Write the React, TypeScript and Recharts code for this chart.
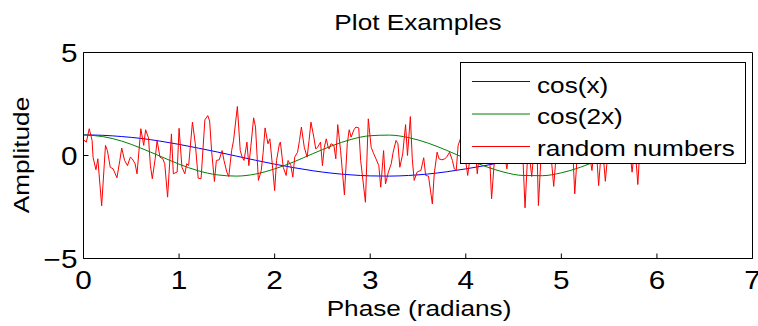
import React from 'react';
import { LineChart, Line, XAxis, YAxis, Legend } from 'recharts';

// smooth curves, read at every 0.2 rad
const phase = [0, 0.2, 0.4, 0.6, 0.8, 1.0, 1.2, 1.4, 1.6, 1.8, 2.0, 2.2, 2.4, 2.6, 2.8, 3.0,
  3.2, 3.4, 3.6, 3.8, 4.0, 4.2, 4.4, 4.6, 4.8, 5.0, 5.2, 5.4, 5.6, 5.8, 6.0, 6.2, 6.28];
const cosX = [1.0, 0.98, 0.92, 0.83, 0.7, 0.54, 0.36, 0.17, -0.03, -0.23, -0.42, -0.59, -0.74, -0.86, -0.94, -0.99,
  -1.0, -0.97, -0.9, -0.79, -0.65, -0.49, -0.31, -0.11, 0.09, 0.28, 0.47, 0.63, 0.78, 0.89, 0.96, 1.0, 1.0];
const cos2X = [1.0, 0.92, 0.7, 0.36, -0.03, -0.42, -0.74, -0.94, -1.0, -0.9, -0.65, -0.31, 0.09, 0.47, 0.78, 0.96,
  0.99, 0.87, 0.61, 0.25, -0.15, -0.52, -0.81, -0.97, -0.98, -0.84, -0.57, -0.2, 0.2, 0.57, 0.84, 0.99, 1.0];

// the noisy trace
const noisePhase = [
  0.0, 0.03, 0.06, 0.09, 0.1, 0.13, 0.15, 0.19, 0.23, 0.25, 0.28, 0.31, 0.35, 0.38, 0.4, 0.43, 0.46, 0.49, 0.51, 0.54,
  0.56, 0.6, 0.63, 0.65, 0.68, 0.7, 0.72, 0.75, 0.77, 0.8, 0.83, 0.85, 0.88, 0.92, 0.94, 0.98, 1.0, 1.03, 1.06, 1.08,
  1.1, 1.14, 1.17, 1.2, 1.23, 1.27, 1.3, 1.32, 1.34, 1.37, 1.39, 1.42, 1.45, 1.47, 1.5, 1.52, 1.55, 1.57, 1.61, 1.64,
  1.66, 1.68, 1.71, 1.73, 1.75, 1.78, 1.8, 1.83, 1.86, 1.88, 1.9, 1.93, 1.95, 1.98, 2.0, 2.02, 2.05, 2.06, 2.09, 2.12,
  2.14, 2.17, 2.19, 2.21, 2.24, 2.26, 2.28, 2.31, 2.34, 2.36, 2.38, 2.41, 2.43, 2.45, 2.48, 2.5, 2.52, 2.54, 2.56, 2.57,
  2.59, 2.62, 2.64, 2.66, 2.69, 2.73, 2.76, 2.78, 2.8, 2.83, 2.85, 2.88, 2.9, 2.95, 2.98, 3.01, 3.03, 3.06, 3.09, 3.11,
  3.14, 3.16, 3.19, 3.22, 3.24, 3.27, 3.29, 3.31, 3.34, 3.37, 3.39, 3.42, 3.44, 3.46, 3.49, 3.51, 3.53, 3.56, 3.58, 3.61,
  3.65, 3.67, 3.7, 3.72, 3.75, 3.78, 3.8, 3.83, 3.86, 3.88, 3.9, 3.92, 3.95, 3.97, 4.0, 4.02, 4.05, 4.07, 4.1, 4.12,
  4.15, 4.17, 4.2, 4.22, 4.25, 4.27, 4.3, 4.32, 4.35, 4.38, 4.4, 4.43, 4.46, 4.48, 4.51, 4.54, 4.56, 4.59, 4.62, 4.65,
  4.67, 4.69, 4.72, 4.74, 4.76, 4.79, 4.82, 4.84, 4.87, 4.89, 4.92, 4.95, 4.97, 5.0, 5.03, 5.05, 5.08, 5.11, 5.14, 5.17,
  5.19, 5.22, 5.25, 5.27, 5.3, 5.32, 5.35, 5.37, 5.39, 5.42, 5.44, 5.46, 5.49, 5.51, 5.54, 5.57, 5.59, 5.62, 5.65, 5.67,
  5.7, 5.72, 5.74, 5.77, 5.8, 5.82, 5.84,
];
const noiseValues = [
  0.76, 0.65, 1.3, 0.73, -0.08, -0.69, -0.16, -2.44, 0.49, 0.24, -0.57, -0.65, -1.08, -0.24, 0.36, -0.24, -0.49, -0.08, -0.16, -0.4,
  -0.89, 1.3, 0.49, 1.25, 0.86, -0.49, -1.13, -0.16, 0.73, -0.08, -0.16, -0.4, -2.02, 1.05, -0.89, -0.8, 1.32, -0.57, -0.89, -0.4,
  -0.49, 1.62, 0.57, -1.1, -1.13, 1.73, 1.94, 1.67, 0.24, -1.26, -0.24, -0.21, 0.24, -0.24, -0.81, -1.02, 0.24, 0.73, 2.38, 0.24,
  -0.08, -0.24, 0.65, -0.49, 0.4, 1.83, 1.38, -1.21, -0.73, 0.16, 1.34, 0.57, 0.81, -0.65, -1.7, -0.24, 0.57, 0.65, -0.57, -0.97,
  -0.24, -0.49, -1.05, -0.08, 0.16, 0.73, 1.38, 0.4, -0.08, 0.73, 1.62, 0.89, 0.32, 0.4, 0.65, -0.49, 0.4, 0.81, 0.4, 0.32,
  0.57, 0.49, -0.16, 1.5, 0.24, -1.91, 0.57, 1.25, 0.89, 1.25, 1.38, 1.34, -0.24, -2.27, 1.78, 0.4, 0.16, -0.16, -0.49, -1.54,
  0.24, -1.38, -0.81, -0.4, 0.16, 0.73, 0.57, -0.57, 0.08, 1.5, 0.0, 1.89, -0.16, -1.21, -0.81, -0.76, -0.73, -0.11, -0.97, -1.0,
  -2.35, -0.89, 0.16, -0.16, -0.21, -0.16, -0.08, 0.16, -0.24, -0.65, -0.73, 0.49, 0.9, 0.2, -0.3, -0.97, 0.1, 0.8, 0.3, -0.89,
  0.4, 1.2, 0.0, 0.6, -0.1, -2.1, -0.2, 0.9, 0.3, 1.4, 0.2, -0.65, 0.5, -0.1, 1.1, 0.4, 0.0, 0.7, -2.54, 0.3,
  -0.2, -1.02, 0.6, 1.3, -2.43, 0.2, 0.8, -0.1, 0.5, 0.1, -1.5, 0.3, 1.0, 0.2, 0.7, -0.2, 0.4, 1.2, -1.86, 0.3,
  -0.2, 0.8, 0.1, 0.5, -0.1, -0.73, 0.6, 0.0, -1.46, 0.4, -0.1, -1.25, 0.3, 1.0, 0.2, 0.6, -0.2, 0.9, 0.3, 0.0,
  0.7, 0.1, -0.81, 0.5, -1.41, 0.2, 0.6,
];

const seriesNames = ['cos(x)', 'cos(2x)', 'random numbers'];
const xTicks = [0, 1, 2, 3, 4, 5, 6, 7];
const yTicks = [-5, 0, 5];

const cosData = phase.map((x, i) => ({ x, y: cosX[i] }));
const cos2Data = phase.map((x, i) => ({ x, y: cos2X[i] }));
const noiseData = noisePhase.map((x, i) => ({ x, y: noiseValues[i] }));

const FONT = '"Liberation Sans", Arial, Helvetica, sans-serif';
const STRETCH = 1.19;

// matlab's helvetica renders wider than ours, so stretch it a bit
const Wide = ({ x, y, size, anchor = 'middle', rotate = 0, children }: any) => (
  <text
    transform={`translate(${x},${y}) rotate(${rotate}) scale(${STRETCH},1)`}
    textAnchor={anchor}
    fontSize={size}
    fontFamily={FONT}
    fill="#000"
  >
    {children}
  </text>
);

const fmt = (v: number) => (v < 0 ? '\u2212' + Math.abs(v) : String(v));

const XTick = ({ x, y, payload }: any) => (
  <Wide x={x} y={y + 30} size={25}>{fmt(payload.value)}</Wide>
);

const YTick = ({ x, y, payload }: any) => (
  <Wide x={x} y={y + 9} size={25} anchor="end">{fmt(payload.value)}</Wide>
);

const LegendBox = ({ payload }: any) => {
  const items = [...(payload || [])].sort(
    (a: any, b: any) => seriesNames.indexOf(a.value) - seriesNames.indexOf(b.value)
  );
  return (
    <svg width={286} height={102} style={{ display: 'block' }}>
      <rect x={0.5} y={0.5} width={285} height={101} fill="#fff" stroke="#000" />
      {items.map((e: any, i: number) => (
        <g key={e.value}>
          <line x1={12} x2={70} y1={19.5 + 32.5 * i} y2={19.5 + 32.5 * i} stroke={e.color} />
          <Wide x={77} y={30.5 + 31.5 * i} size={22} anchor="start">{e.value}</Wide>
        </g>
      ))}
    </svg>
  );
};

export default function App() {
  return (
    <div style={{ position: 'absolute', left: 0, top: 0, width: 758, height: 326, background: '#fff' }}>
      <LineChart width={758} height={326} margin={{ top: 22.5, right: 0, bottom: 0, left: 0 }}>
        <XAxis
          dataKey="x"
          type="number"
          domain={[0, 7]}
          ticks={xTicks}
          interval={0}
          height={67.5}
          tickSize={-5}
          tickMargin={5}
          stroke="#000"
          tick={<XTick />}
        />
        <XAxis
          xAxisId="top"
          orientation="top"
          type="number"
          domain={[0, 7]}
          ticks={xTicks}
          interval={0}
          height={30}
          tickSize={-5}
          tick={false}
          stroke="#000"
        />
        <YAxis
          type="number"
          domain={[-5, 5]}
          ticks={yTicks}
          interval={0}
          width={83.5}
          tickSize={-5}
          tickMargin={11}
          stroke="#000"
          tick={<YTick />}
        />
        <YAxis
          yAxisId="right"
          orientation="right"
          type="number"
          domain={[-5, 5]}
          ticks={yTicks}
          interval={0}
          width={5.5}
          tickSize={-5}
          tick={false}
          stroke="#000"
        />
        <Line data={cosData} dataKey="y" name={seriesNames[0]} type="monotone" stroke="#0000ff" strokeWidth={1} dot={false} activeDot={false} isAnimationActive={false} />
        <Line data={cos2Data} dataKey="y" name={seriesNames[1]} type="monotone" stroke="#008000" strokeWidth={1} dot={false} activeDot={false} isAnimationActive={false} />
        <Line data={noiseData} dataKey="y" name={seriesNames[2]} type="linear" stroke="#ff0000" strokeWidth={1} dot={false} activeDot={false} isAnimationActive={false} />
        <Legend
          layout="horizontal"
          verticalAlign="middle"
          align="center"
          wrapperStyle={{ left: 460, top: 62, width: 286, height: 102 }}
          content={<LegendBox />}
        />
        <Wide x={418} y={30} size={22}>Plot Examples</Wide>
        <Wide x={419} y={316} size={22}>Phase (radians)</Wide>
        <Wide x={28.5} y={155} size={22} rotate={-90}>Amplitude</Wide>
      </LineChart>
    </div>
  );
}
